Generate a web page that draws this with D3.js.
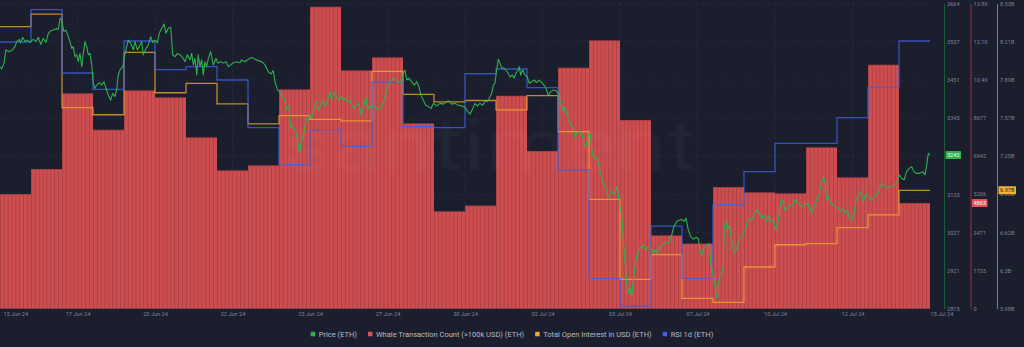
<!DOCTYPE html>
<html><head><meta charset="utf-8">
<script src="https://cdn.jsdelivr.net/npm/d3@7"></script>
<style>html,body{margin:0;padding:0;background:#1b1e2d;}svg{display:block;}</style>
</head><body>
<svg id="chart" width="1024" height="347"></svg>
<script>
// ---------------- DATA ----------------
const dayStarts = ["2024-06-15","2024-06-16","2024-06-17","2024-06-18","2024-06-19","2024-06-20","2024-06-21","2024-06-22","2024-06-23","2024-06-24",
  "2024-06-25","2024-06-26","2024-06-27","2024-06-28","2024-06-29","2024-06-30","2024-07-01","2024-07-02","2024-07-03","2024-07-04",
  "2024-07-05","2024-07-06","2024-07-07","2024-07-08","2024-07-09","2024-07-10","2024-07-11","2024-07-12","2024-07-13","2024-07-14"];
const seriesEnd = "2024-07-15";
const whaleCounts = [5212,6350,9796,8139,9933,9614,7793,6291,6519,9978,13738,10843,11435,8431,4425,4689,9687,7170,10962,12209,8581,3332,2959,5531,5290,5244,7338,5972,11098,4803];
const openInterestB = [8.336,8.442,7.659,7.600,8.122,7.784,7.863,7.690,7.523,7.592,7.562,7.548,7.963,7.771,7.707,7.719,7.640,7.759,7.458,6.893,6.224,6.430,6.064,6.032,6.327,6.513,6.522,6.656,6.762,6.968];
const rsi1d = [73.69,78.98,68.61,65.93,73.85,69.15,69.64,67.46,59.64,53.57,59.31,56.59,67.13,59.80,59.64,68.48,69.26,66.20,52.75,34.95,30.41,43.52,34.95,47.02,52.43,57.08,57.08,61.28,66.26,73.85];
// price: [hours since 15 Jun 00:00 UTC, price USD]
const pricePoints = [[0,3488],[1.3,3482],[3.1,3498],[4.6,3535],[6.4,3530],[9.1,3533],[11.6,3544],[12.9,3558],[14.9,3564],[16,3555],[17.6,3570],[19.4,3558],[21.1,3562],[23.2,3557],[25.8,3564],[27.9,3558],[29.7,3570],[31.5,3550],[33.5,3567],[35.6,3556],[37.4,3581],[39.3,3588],[41.3,3590],[43.4,3594],[45.1,3592],[46.5,3623],[47.5,3618],[48.5,3604],[49.5,3586],[51.1,3590],[52.9,3572],[54.2,3558],[55.5,3539],[56.7,3544],[58.1,3516],[59.4,3521],[60.6,3502],[61.9,3525],[63.3,3488],[64.5,3525],[65.8,3558],[67.1,3544],[68.4,3521],[69.7,3525],[71,3493],[72.2,3442],[73.5,3428],[74.9,3437],[76.9,3444],[78.7,3437],[80.5,3446],[82.1,3428],[83.8,3409],[85.7,3395],[87.3,3414],[89,3405],[90.3,3423],[91.6,3465],[92.9,3479],[95,3488],[96,3511],[97.5,3535],[99.3,3562],[101.2,3553],[103.2,3535],[104.5,3558],[106.3,3535],[107.8,3544],[109.7,3558],[110.9,3521],[113,3539],[114.8,3548],[116.7,3572],[118.2,3555],[120,3562],[121.8,3555],[123.3,3581],[125.2,3595],[127,3607],[128.5,3581],[130.3,3595],[132.2,3598],[133.7,3521],[135.5,3516],[137.3,3525],[139.4,3521],[141.4,3514],[143.2,3502],[145,3521],[147.1,3507],[148.4,3525],[149.7,3493],[151,3511],[152.3,3465],[153.5,3521],[154.8,3488],[156.1,3507],[157.4,3465],[158.7,3502],[160,3488],[161.3,3511],[163.1,3530],[165.1,3493],[167.2,3511],[169,3498],[170.9,3502],[172.9,3498],[175,3502],[176.8,3488],[178.6,3493],[180.6,3499],[183.3,3502],[185.8,3499],[187.1,3507],[189.7,3502],[192.2,3509],[194.9,3514],[197.4,3509],[200,3505],[202.6,3502],[205.2,3493],[207.7,3474],[209.8,3468],[211.6,3477],[212.9,3446],[215,3423],[216.8,3418],[218.6,3405],[220.6,3395],[222,3368],[223.7,3377],[225.3,3317],[227.1,3321],[228.9,3307],[230.5,3284],[231.7,3247],[233,3275],[234.3,3289],[236.1,3321],[237.4,3344],[238.7,3340],[240,3354],[241.8,3349],[243.3,3377],[245.2,3391],[246.5,3368],[248.5,3381],[250.3,3395],[251.6,3377],[253.7,3395],[255.5,3418],[256.8,3395],[258.8,3418],[260.7,3405],[262.5,3395],[264,3405],[265.8,3395],[267.1,3400],[269.2,3391],[271,3395],[272.3,3381],[274.3,3372],[276.1,3381],[277.9,3386],[279.5,3354],[281.3,3372],[283.1,3405],[284.7,3368],[286.5,3381],[287.8,3372],[289.8,3381],[291.6,3372],[293.4,3368],[295.5,3377],[297.5,3395],[299.4,3423],[301.2,3446],[303.2,3451],[305.3,3456],[307.1,3446],[308.9,3446],[311,3444],[312.2,3470],[313.5,3479],[314.9,3451],[316.6,3456],[318.7,3446],[320.8,3437],[322.6,3446],[324.4,3432],[325.9,3409],[327.7,3395],[329.6,3381],[331.6,3377],[333.7,3372],[335.5,3386],[338.1,3379],[340.6,3386],[343.2,3384],[345.8,3391],[347.6,3393],[349.7,3384],[352.3,3386],[354.8,3381],[357.4,3379],[360,3375],[362.1,3363],[363.9,3356],[366,3372],[367.7,3386],[369.5,3379],[371.6,3386],[373.7,3381],[375.5,3391],[377.3,3391],[378.8,3400],[380.7,3414],[381.9,3437],[383.2,3442],[384.5,3479],[385.8,3509],[387.1,3498],[388.4,3484],[390.2,3484],[391.7,3479],[393.5,3470],[394.8,3459],[396.6,3465],[397.9,3456],[399.5,3471],[401.3,3479],[402,3488],[403.1,3465],[404.7,3479],[406.5,3465],[408.2,3460],[409.8,3442],[411.6,3446],[413.4,3451],[415.5,3444],[417.5,3451],[419.4,3444],[421.2,3437],[422.7,3428],[424.5,3409],[426.3,3418],[428.4,3423],[430.5,3421],[432.2,3414],[433.5,3395],[434.9,3377],[436.1,3363],[437.4,3377],[438.7,3358],[440,3344],[441.8,3326],[443.9,3317],[445.2,3289],[446.5,3303],[448.5,3307],[450.3,3303],[452.1,3275],[453.7,3265],[455.5,3298],[456.8,3303],[458.1,3261],[459.3,3238],[460.6,3228],[461.9,3238],[463.2,3219],[465,3191],[467.1,3164],[469.2,3145],[470.9,3126],[472.3,3136],[474.3,3140],[476.1,3131],[477.4,3154],[478.7,3131],[480,3098],[481.3,3080],[482.6,3006],[483.9,2941],[485.2,2885],[486.4,2857],[487.7,2876],[489,2848],[490.3,2894],[491.6,2931],[492.9,2959],[494.2,2969],[495.5,2987],[496.8,2983],[498,2992],[500.1,2978],[501.9,2987],[503.8,2983],[505.8,2969],[507.1,2978],[508.9,2969],[511,2987],[513.1,2992],[514.8,2996],[516.6,3001],[518.2,2996],[520,3020],[521.8,3043],[523.9,3057],[525.9,3061],[527.8,3063],[529.5,3057],[531.1,3066],[532.9,3034],[534.7,3015],[536.7,3008],[538.8,3013],[540.6,3010],[541.9,2978],[543.2,2964],[545,2983],[547.4,2992],[549.1,2996],[550.2,2941],[551.8,2913],[553.5,2876],[554.8,2843],[556.1,2885],[557.4,2904],[558.7,2913],[560,2931],[560.8,3043],[562.1,3057],[563.1,3034],[564.6,3047],[565.7,3024],[567.3,2983],[568.3,2969],[569.8,2978],[571.6,2996],[573.4,3015],[575,3024],[576.8,3029],[578.1,3052],[580.1,3066],[582,3061],[583.7,3075],[585.8,3089],[587.9,3080],[589.7,3066],[591.5,3075],[593,3057],[594.8,3071],[596.7,3057],[598.7,3061],[600.8,3034],[602.6,3061],[604.4,3112],[605.9,3117],[607.7,3089],[609.5,3094],[611.6,3103],[613.7,3103],[615.5,3117],[617.3,3112],[619.4,3103],[621.4,3098],[623.2,3103],[625,3108],[627.1,3094],[628.6,3080],[630.2,3098],[632.3,3117],[634.3,3136],[636.1,3164],[637.4,3182],[638.7,3168],[640,3117],[641.3,3126],[643.1,3108],[645.1,3103],[647.2,3098],[649,3094],[650.9,3084],[652.4,3094],[654.2,3080],[656,3089],[657.5,3066],[659.4,3061],[661.2,3080],[662.7,3117],[664.5,3131],[666.3,3140],[668.4,3112],[670.2,3136],[672.2,3126],[674.1,3117],[676.1,3122],[678.2,3131],[680,3136],[681.8,3159],[683.4,3164],[685.2,3154],[687.7,3152],[690.3,3154],[692.9,3159],[694.7,3173],[696.2,3187],[698.1,3177],[699.9,3173],[701.9,3196],[704,3205],[705.8,3210],[707.6,3196],[709.7,3191],[711.7,3191],[714.3,3196],[716.1,3187],[717.4,3214],[718.7,3247],[720,3242]];
const dateTicks = ["2024-06-15T00:00Z","2024-06-17T12:00Z","2024-06-20T00:00Z","2024-06-22T12:00Z","2024-06-25T00:00Z","2024-06-27T12:00Z","2024-06-30T00:00Z","2024-07-02T12:00Z","2024-07-05T00:00Z","2024-07-07T12:00Z","2024-07-10T00:00Z","2024-07-12T12:00Z","2024-07-15T00:00Z"];
const priceTicks = [2815,2921,3027,3133,3239,3345,3451,3557,3664];
const whaleTickLabels = ["0","1735","3471","5206","6942","8677","10.4K","12.1K","13.8K"];
const oiTickLabels = ["5.98B","6.3B","6.62B","6.93B","7.25B","7.57B","7.89B","8.21B","8.53B"];
const legendItems = ["Price (ETH)","Whale Transaction Count (>100k USD) (ETH)","Total Open Interest in USD (ETH)","RSI 1d (ETH)"];
const seriesColors = ["#2fb14f","#d9504f","#f0a92e","#3f5fe0"];

// ---------------- LAYOUT ----------------
const W = 1024, H = 347;
const plotL = 0, plotR = 930, plotT = 3.5, plotB = 308.5;
const font = "Roboto, 'Liberation Sans', Arial, sans-serif";
const svg = d3.select("#chart");
svg.append("rect").attr("width", W).attr("height", H).attr("fill", "#1b1e2d");

const parseDay = s => new Date(s + "T00:00:00Z");
const t0 = parseDay(dayStarts[0]), tEnd = parseDay(seriesEnd);
const x = d3.scaleUtc().domain([t0, tEnd]).range([plotL, plotR]);
const yPrice = d3.scaleLinear().domain([2815, 3664]).range([plotB, plotT]);
const yWhale = d3.scaleLinear().domain([0, 13884]).range([plotB, plotT]);
const yOI = d3.scaleLinear().domain([5.98, 8.53]).range([plotB, plotT]);
const yRSI = d3.scaleLinear().domain([30, 80]).range([plotB, plotT]);

// grid
const grid = svg.append("g").attr("stroke", "#2a2e40").attr("stroke-width", 0.8).attr("stroke-dasharray", "3,3");
grid.selectAll("line.h").data(priceTicks).join("line")
  .attr("x1", plotL).attr("x2", plotR).attr("y1", d => yPrice(d)).attr("y2", d => yPrice(d));
grid.selectAll("line.v").data(dateTicks.slice(1, -1)).join("line")
  .attr("x1", d => x(new Date(d))).attr("x2", d => x(new Date(d))).attr("y1", plotT).attr("y2", plotB);

// whale bars (daily values, hatched with 3-hour slots)
const bars = svg.append("g");
const dayData = dayStarts.map((d, i) => ({ start: parseDay(d), end: i + 1 < dayStarts.length ? parseDay(dayStarts[i + 1]) : tEnd, v: whaleCounts[i] }));
bars.selectAll("rect.day").data(dayData).join("rect")
  .attr("x", d => x(d.start)).attr("width", d => x(d.end) - x(d.start))
  .attr("y", d => yWhale(d.v)).attr("height", d => yWhale(0) - yWhale(d.v))
  .attr("fill", "#a53d40");
const slots = [];
dayData.forEach(d => { for (let k = 0; k < 8; k++) slots.push({ s: d3.utcHour.offset(d.start, k * 3), e: d3.utcHour.offset(d.start, (k + 1) * 3), v: d.v }); });
bars.selectAll("rect.slot").data(slots).join("rect")
  .attr("x", d => x(d.s) + 0.7).attr("width", d => Math.max(0, x(d.e) - x(d.s) - 0.7))
  .attr("y", d => yWhale(d.v) + 0.8).attr("height", d => Math.max(0, yWhale(0) - yWhale(d.v) - 0.8))
  .attr("fill", "#cd4e51");

// watermark
svg.append("text").text("santiment").attr("x", 283).attr("y", 170)
  .attr("textLength", 414).attr("lengthAdjust", "spacingAndGlyphs")
  .attr("font-family", font).attr("font-size", 72).attr("font-weight", 400)
  .attr("fill", "#ffffff").attr("opacity", 0.022);

// step lines
const stepData = vals => dayData.map((d, i) => [d.start, vals[i]]).concat([[tEnd, vals[vals.length - 1]]]);
svg.append("path").datum(stepData(openInterestB))
  .attr("d", d3.line().x(d => x(d[0])).y(d => yOI(d[1])).curve(d3.curveStepAfter))
  .attr("fill", "none").attr("stroke", seriesColors[2]).attr("stroke-width", 1.3).attr("opacity", 0.78);
svg.append("path").datum(stepData(rsi1d))
  .attr("d", d3.line().x(d => x(d[0])).y(d => yRSI(d[1])).curve(d3.curveStepAfter))
  .attr("fill", "none").attr("stroke", seriesColors[3]).attr("stroke-width", 1.3).attr("opacity", 0.8);

// price line
svg.append("path").datum(pricePoints)
  .attr("d", d3.line().x(d => x(new Date(t0.getTime() + d[0] * 3600e3))).y(d => yPrice(d[1])))
  .attr("fill", "none").attr("stroke", seriesColors[0]).attr("stroke-width", 1.1).attr("stroke-linejoin", "round");

// right axes
function rightAxis(scale, xPos, tickVals, fmt, lineColor) {
  const g = svg.append("g").attr("transform", `translate(${xPos},0)`)
    .call(d3.axisRight(scale).tickValues(tickVals).tickFormat(fmt).tickSize(0).tickSizeOuter(0).tickPadding(3));
  g.select(".domain").attr("stroke", lineColor).attr("stroke-width", 1);
  g.selectAll("text").attr("font-family", font).attr("font-size", 5.6).attr("fill", "#7e8496");
  return g;
}
rightAxis(yPrice, 944, priceTicks, d => String(d), "#1f5a34");
const whaleTickVals = whaleTickLabels.map((_, i) => i * 13884 / 8);
rightAxis(yWhale, 970.5, whaleTickVals, (d, i) => whaleTickLabels[i], "#8c3a3e");
const oiTickVals = oiTickLabels.map((_, i) => 5.98 + i * 2.55 / 8);
rightAxis(yOI, 997, oiTickVals, (d, i) => oiTickLabels[i], "#a57a2c");

// last-value badges
function badge(xl, w, yc, label, fill, tc) {
  svg.append("rect").attr("x", xl).attr("y", yc - 4).attr("width", w).attr("height", 8).attr("fill", fill).attr("rx", 0.5);
  svg.append("text").attr("x", xl + w / 2).attr("y", yc).attr("dy", "0.35em").attr("text-anchor", "middle")
    .attr("font-family", font).attr("font-size", 5.6).attr("fill", tc).text(label);
}
const lastPrice = pricePoints[pricePoints.length - 1][1];
badge(945.5, 15.5, yPrice(lastPrice), String(lastPrice), "#2fb14f", "#eaffea");
const lastWhale = whaleCounts[whaleCounts.length - 1];
badge(972, 15.5, yWhale(lastWhale), String(lastWhale), "#de5558", "#ffffff");
const lastOI = openInterestB[openInterestB.length - 1];
badge(998.5, 17.5, yOI(lastOI), lastOI.toFixed(2) + "B", "#f2b233", "#1b1e2d");

// bottom axis
const fmtDate = d3.utcFormat("%d %b %y");
const xa = svg.append("g").attr("transform", `translate(0,${plotB})`)
  .call(d3.axisBottom(x).tickValues(dateTicks.map(d => new Date(d))).tickFormat(fmtDate).tickSize(0).tickPadding(3.2));
xa.select(".domain").remove();
xa.selectAll("text").attr("font-family", font).attr("font-size", 5.6).attr("fill", "#7e8496");
xa.selectAll(".tick").filter((d, i) => i === 0).select("text").attr("text-anchor", "start").attr("x", 3);
xa.selectAll(".tick").filter((d, i) => i === dateTicks.length - 1).select("text").attr("text-anchor", "start").attr("x", 0);

// legend
const lg = svg.append("g");
let cx = 0;
const items = legendItems.map((name, i) => {
  const g = lg.append("g");
  g.append("rect").attr("x", 0).attr("y", -2.2).attr("width", 4.5).attr("height", 4.5).attr("fill", seriesColors[i]);
  const t = g.append("text").attr("x", 8).attr("y", 0).attr("dy", "0.35em")
    .attr("font-family", font).attr("font-size", 7.5).attr("fill", "#b8bcc8").text(name);
  const w = 8 + t.node().getComputedTextLength();
  g.attr("transform", `translate(${cx},0)`);
  cx += w + 11;
  return g;
});
const totalW = cx - 11;
lg.attr("transform", `translate(${(307 + 717) / 2 - totalW / 2},334)`);
</script>
</body></html>
